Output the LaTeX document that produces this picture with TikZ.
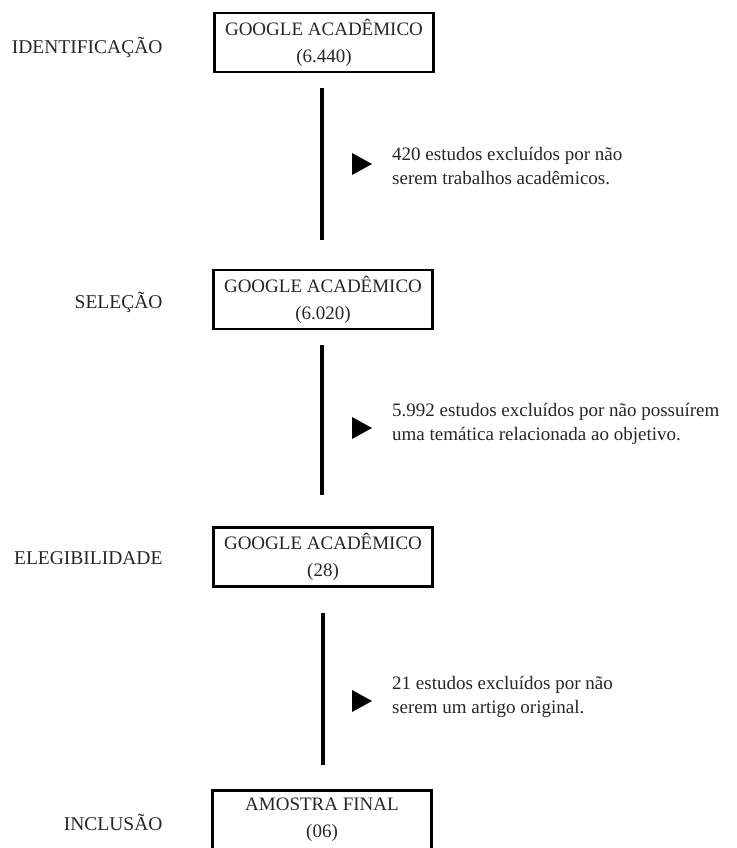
\documentclass[tikz,border=0pt]{standalone}
\usepackage{fontspec}
\setmainfont{Liberation Serif}
\begin{document}
\begin{tikzpicture}[x=1pt,y=-1pt,
  box/.style={draw=black,line width=2.6pt,minimum width=219pt,minimum height=59pt,align=center,inner sep=0pt,font=\fontsize{19}{27}\selectfont,text=black!85},
  stage/.style={anchor=east,font=\fontsize{19.5}{22}\selectfont,text=black!85},
  note/.style={anchor=west,align=left,inner sep=0pt,font=\fontsize{19}{24}\selectfont,text=black!85},
  bar/.style={line width=4pt,black},
  tri/.style={fill=black}
]
\useasboundingbox (0,0) rectangle (736,848);
\clip (0,0) rectangle (736,848);

\node[stage] (s1) at (166,47) {IDENTIFICAÇÃO};
\node[stage] (s2) at (166,302) {SELEÇÃO};
\node[stage] (s3) at (166,558) {ELEGIBILIDADE};
\node[stage] (s4) at (166,822) {INCLUSÃO};

\node[box] (b1) at (324,42.5) {GOOGLE ACADÊMICO\\(6.440)};
\node[box] (b2) at (323,299.5) {GOOGLE ACADÊMICO\\(6.020)};
\node[box] (b3) at (323,557) {GOOGLE ACADÊMICO\\(28)};
\node[box] (b4) at (322,820) {AMOSTRA FINAL\\(06)};

\coordinate (l1a) at (322,88);  \coordinate (l1b) at (322,240);
\coordinate (l2a) at (322,345); \coordinate (l2b) at (322,495);
\coordinate (l3a) at (323,613); \coordinate (l3b) at (323,765);
\draw[bar] (l1a) -- (l1b);
\draw[bar] (l2a) -- (l2b);
\draw[bar] (l3a) -- (l3b);

\coordinate (t1) at (352,164);
\coordinate (t2) at (352,428);
\coordinate (t3) at (352,701);
\foreach \t in {t1,t2,t3}
  \fill[tri] ([yshift=-11pt]\t) -- ([yshift=11pt]\t) -- ([xshift=20pt]\t) -- cycle;

\node[note] (n1) at (392,166) {420 estudos excluídos por não\\serem trabalhos acadêmicos.};
\node[note] (n2) at (392,424) {5.992 estudos excluídos por não possuírem\\uma temática relacionada ao objetivo.};
\node[note] (n3) at (392,697) {21 estudos excluídos por não\\serem um artigo original.};
\end{tikzpicture}
\end{document}
